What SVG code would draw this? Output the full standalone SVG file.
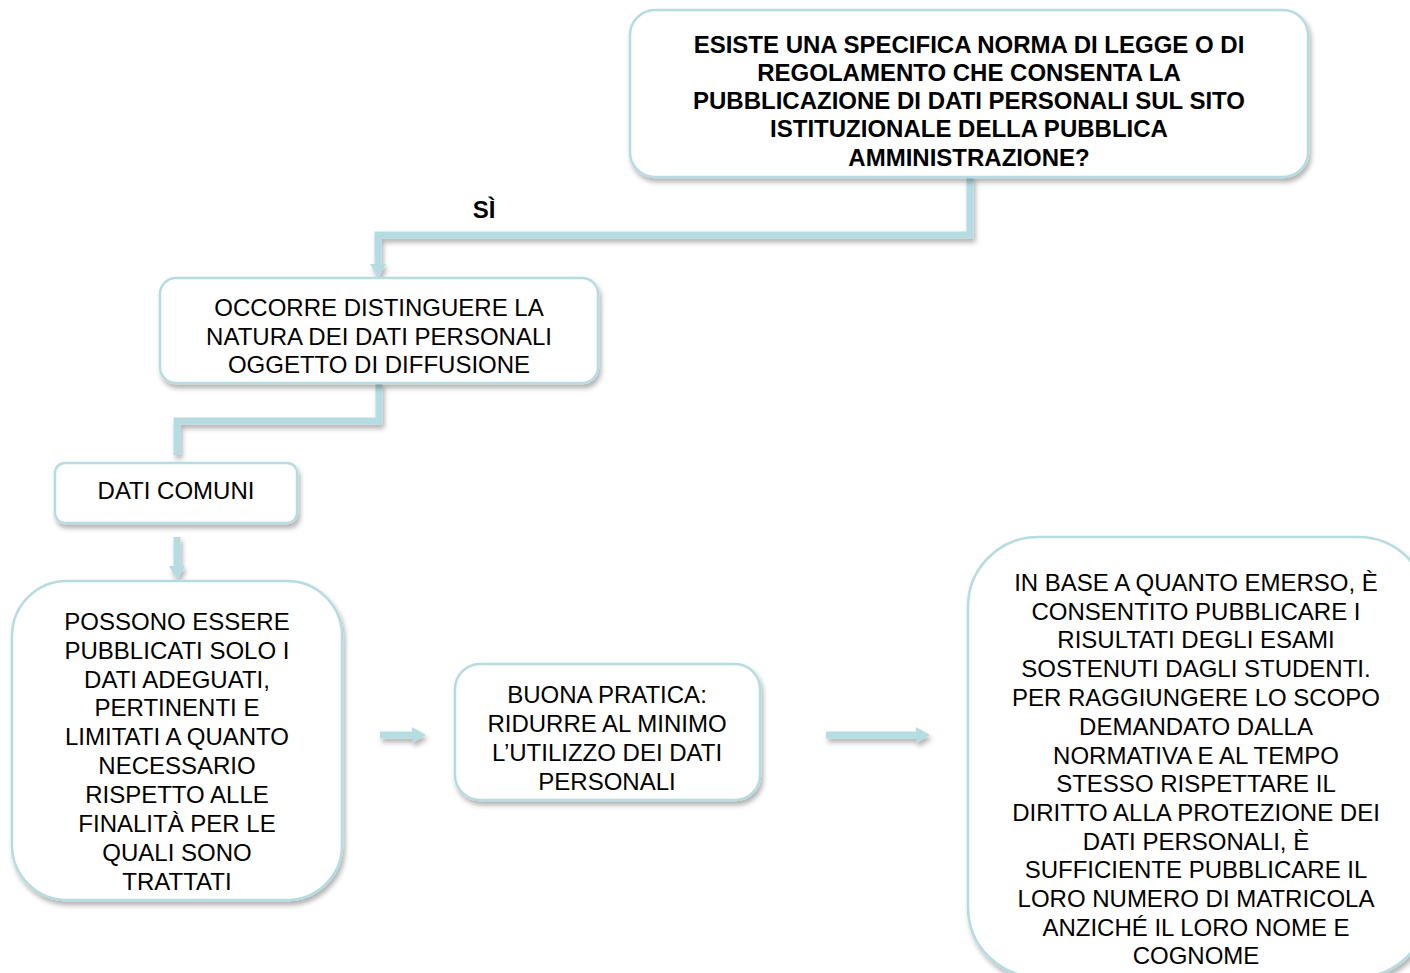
<svg xmlns="http://www.w3.org/2000/svg" width="1410" height="973" viewBox="0 0 1410 973">
<style>
.box{fill:#ffffff;stroke:#b6dbe0;stroke-width:2.5;filter:url(#sh)}
.t{font-family:"Liberation Sans",Arial,sans-serif;font-size:24px;fill:#000;text-anchor:middle}
.b{font-weight:bold}
.c{fill:none;stroke:#b4dce1;stroke-width:7}
</style>
<defs>
<filter id="sh" x="-10%" y="-10%" width="120%" height="130%">
<feDropShadow dx="2" dy="4" stdDeviation="2.5" flood-color="#000" flood-opacity="0.3"/>
</filter>
<marker id="ah" viewBox="0 0 14 16" refX="0" refY="8" markerWidth="14" markerHeight="16" markerUnits="userSpaceOnUse" orient="auto">
<path d="M0 0 L14 8 L0 16 Z" fill="#b4dce1"/>
</marker>
</defs>
<rect width="1410" height="973" fill="#ffffff"/>
<g id="connectors" filter="url(#sh)">
<path class="c" d="M970 177 V235 H378 V264" marker-end="url(#ah)"/>
<path class="c" d="M379 383 V421 H177 V455"/>
<path class="c" d="M177 537 V566" marker-end="url(#ah)"/>
<path class="c" d="M380 735 H412" marker-end="url(#ah)"/>
<path class="c" d="M826 735 H916" marker-end="url(#ah)"/>
</g>
<g id="n1">
<rect class="box" x="630" y="10" width="678" height="167" rx="25"/>
<text class="t b"><tspan x="969" y="53">ESISTE UNA SPECIFICA NORMA DI LEGGE O DI</tspan><tspan x="969" y="81">REGOLAMENTO CHE CONSENTA LA</tspan><tspan x="969" y="109">PUBBLICAZIONE DI DATI PERSONALI SUL SITO</tspan><tspan x="969" y="137">ISTITUZIONALE DELLA PUBBLICA</tspan><tspan x="969" y="166">AMMINISTRAZIONE?</tspan></text>
</g>
<g id="label-si">
<text class="t b" x="484" y="218" font-size="22">SÌ</text>
</g>
<g id="n2">
<rect class="box" x="160" y="278" width="438" height="105" rx="16"/>
<text class="t"><tspan x="379" y="316">OCCORRE DISTINGUERE LA</tspan><tspan x="379" y="345">NATURA DEI DATI PERSONALI</tspan><tspan x="379" y="373">OGGETTO DI DIFFUSIONE</tspan></text>
</g>
<g id="n3">
<rect class="box" x="55" y="463" width="242" height="60" rx="10"/>
<text class="t" x="176" y="499">DATI COMUNI</text>
</g>
<g id="n4">
<rect class="box" x="12" y="581" width="330" height="319" rx="55"/>
<text class="t"><tspan x="177" y="630">POSSONO ESSERE</tspan><tspan x="177" y="659">PUBBLICATI SOLO I</tspan><tspan x="177" y="688">DATI ADEGUATI,</tspan><tspan x="177" y="716">PERTINENTI E</tspan><tspan x="177" y="745">LIMITATI A QUANTO</tspan><tspan x="177" y="774">NECESSARIO</tspan><tspan x="177" y="803">RISPETTO ALLE</tspan><tspan x="177" y="832">FINALITÀ PER LE</tspan><tspan x="177" y="861">QUALI SONO</tspan><tspan x="177" y="890">TRATTATI</tspan></text>
</g>
<g id="n5">
<rect class="box" x="455" y="664" width="305" height="136" rx="25"/>
<text class="t"><tspan x="607" y="703">BUONA PRATICA:</tspan><tspan x="607" y="732">RIDURRE AL MINIMO</tspan><tspan x="607" y="761">L’UTILIZZO DEI DATI</tspan><tspan x="607" y="790">PERSONALI</tspan></text>
</g>
<g id="n6">
<rect class="box" x="968" y="537" width="460" height="440" rx="70"/>
<text class="t"><tspan x="1196" y="591">IN BASE A QUANTO EMERSO, È</tspan><tspan x="1196" y="620">CONSENTITO PUBBLICARE I</tspan><tspan x="1196" y="648">RISULTATI DEGLI ESAMI</tspan><tspan x="1196" y="677">SOSTENUTI DAGLI STUDENTI.</tspan><tspan x="1196" y="706">PER RAGGIUNGERE LO SCOPO</tspan><tspan x="1196" y="735">DEMANDATO DALLA</tspan><tspan x="1196" y="764">NORMATIVA E AL TEMPO</tspan><tspan x="1196" y="792">STESSO RISPETTARE IL</tspan><tspan x="1196" y="821">DIRITTO ALLA PROTEZIONE DEI</tspan><tspan x="1196" y="850">DATI PERSONALI, È</tspan><tspan x="1196" y="878">SUFFICIENTE PUBBLICARE IL</tspan><tspan x="1196" y="907">LORO NUMERO DI MATRICOLA</tspan><tspan x="1196" y="936">ANZICHÉ IL LORO NOME E</tspan><tspan x="1196" y="964">COGNOME</tspan></text>
</g>
</svg>
